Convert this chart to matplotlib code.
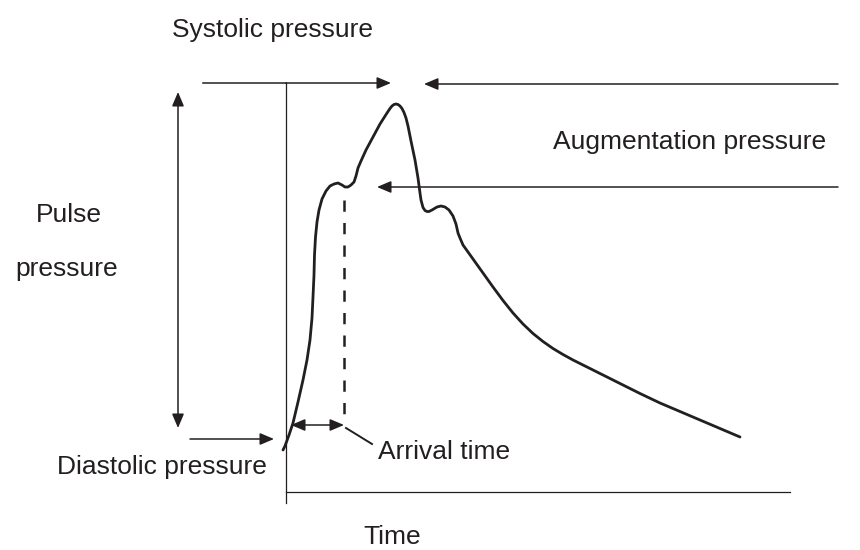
import matplotlib.pyplot as plt

# waveform (x = time in px, y = pressure in px from top)
t = [283, 285, 289, 293, 298, 303, 307, 310, 312, 313, 314, 314.5, 315.5, 317, 319, 322, 326, 330,
     334, 338, 342, 345, 348, 351, 354, 356, 358, 361, 366, 373, 380, 387, 390, 392, 394, 396,
     398, 400, 402, 404, 406, 408, 411, 415, 418, 420, 421, 423, 425, 427, 429, 432, 437, 441,
     445, 449, 453, 456, 458, 460, 463, 473, 483, 493, 503, 513, 523, 533, 543, 553, 563, 573,
     585, 600, 617, 640, 660, 680, 700, 720, 740]
p = [450, 446, 435, 423, 402, 380, 360, 340, 318, 297, 275, 255, 237, 222, 210, 199, 191, 186,
     184, 183, 185, 187, 187, 185, 182, 176, 168, 161, 150, 137, 124, 113, 108.5, 106, 104.5, 104,
     104.5, 106, 108.5, 112.5, 118, 126, 141, 160, 178, 193, 200, 207.5, 210.5, 211.5, 211.5, 210,
     207, 206, 207, 210, 216, 224, 233, 238, 245, 259, 273, 287, 300.5, 313, 324, 333.5, 341.5,
     348.5, 354.5, 360, 366, 373.5, 382, 393.5, 403, 411.5, 420, 428.5, 437]

labels = ["Systolic pressure", "Augmentation pressure", "Pulse", "pressure",
          "Diastolic pressure", "Arrival time", "Time"]

plt.rcParams['font.family'] = ['Liberation Sans', 'DejaVu Sans']
col = '#231f20'

fig = plt.figure(figsize=(8.6, 5.5), dpi=100)
ax = fig.add_axes([0, 0, 1, 1])
ax.set_xlim(0, 860)
ax.set_ylim(550, 0)
ax.axis('off')

ax.plot(t, p, color=col, lw=2.0, solid_capstyle='round', solid_joinstyle='round')


def arrow(x1, y1, x2, y2, style='-|>'):
    ax.annotate('', xy=(x2, y2), xytext=(x1, y1),
                arrowprops=dict(arrowstyle=style + ',head_length=0.85,head_width=0.36',
                                color=col, lw=1.1, shrinkA=0, shrinkB=0,
                                mutation_scale=10))


# axes of the sketch
ax.plot([286, 286], [83, 503], color=col, lw=0.9)
ax.plot([286, 790], [492, 492], color=col, lw=0.9)

# systolic / augmentation markers
ax.plot([203, 286], [83, 83], color=col, lw=1.1)
arrow(286, 83, 391, 83)
arrow(838, 84, 424, 84)
arrow(838, 187, 377, 187)
arrow(861, 130, 861, 100)
arrow(861, 130, 861, 160)

# pulse pressure
arrow(178, 92, 178, 428, style='<|-|>')
# diastolic
arrow(190, 439, 274, 439)

# arrival time
ax.plot([344, 344], [200, 425], color=col, lw=1.8, dashes=(4.5, 4.5))
arrow(291, 425, 344, 425, style='<|-|>')
ax.plot([346, 372], [428, 444], color=col, lw=1.4)

fs = 19
ax.text(273, 30, labels[0], fontsize=fs, color=col, ha='center', va='center')
ax.text(690, 142, labels[1], fontsize=fs, color=col, ha='center', va='center')
ax.text(69, 215, labels[2], fontsize=fs, color=col, ha='center', va='center')
ax.text(67, 269, labels[3], fontsize=fs, color=col, ha='center', va='center')
ax.text(162, 467, labels[4], fontsize=fs, color=col, ha='center', va='center')
ax.text(378, 452, labels[5], fontsize=fs, color=col, ha='left', va='center')
ax.text(392, 537, labels[6], fontsize=fs, color=col, ha='center', va='center')

fig.savefig('out.png', dpi=100)
